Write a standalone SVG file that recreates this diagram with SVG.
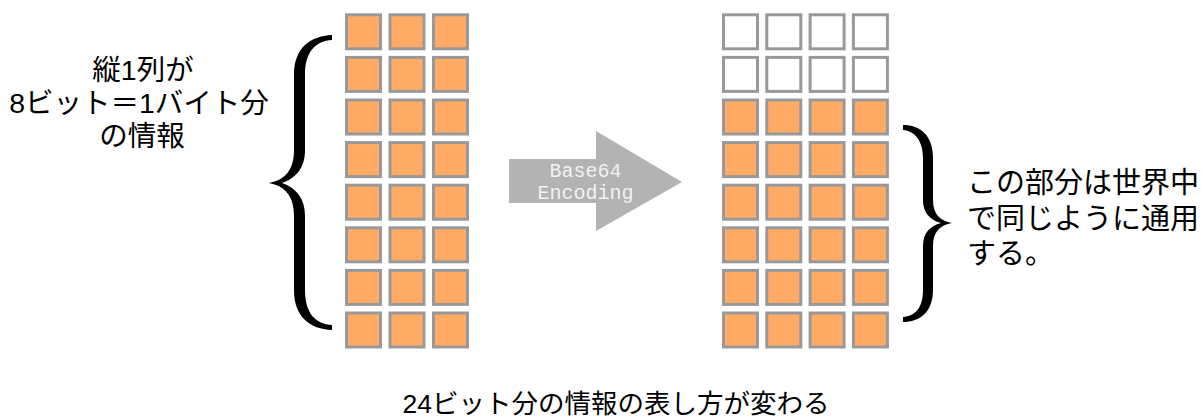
<svg xmlns="http://www.w3.org/2000/svg" width="1201" height="418" viewBox="0 0 1201 418">
<style>
.c{fill:#ffab66;stroke:#999999;stroke-width:3}
.e{fill:#ffffff;stroke:#999999;stroke-width:3}
.t{font-family:"Liberation Sans","Noto Sans CJK JP",sans-serif;fill:#000}
.m{font-family:"Liberation Mono","DejaVu Sans Mono",monospace;fill:#f2f2f2;font-size:20px}
.b{fill:#000}
</style>
<defs>
<rect id="sq" class="c" width="34" height="34"/>
<rect id="sqe" class="e" width="34" height="34"/>
</defs>
<g id="left-grid">
<use href="#sq" x="346.5" y="14.8"/><use href="#sq" x="390" y="14.8"/><use href="#sq" x="433.5" y="14.8"/>
<use href="#sq" x="346.5" y="57.4"/><use href="#sq" x="390" y="57.4"/><use href="#sq" x="433.5" y="57.4"/>
<use href="#sq" x="346.5" y="100"/><use href="#sq" x="390" y="100"/><use href="#sq" x="433.5" y="100"/>
<use href="#sq" x="346.5" y="142.6"/><use href="#sq" x="390" y="142.6"/><use href="#sq" x="433.5" y="142.6"/>
<use href="#sq" x="346.5" y="185.2"/><use href="#sq" x="390" y="185.2"/><use href="#sq" x="433.5" y="185.2"/>
<use href="#sq" x="346.5" y="227.8"/><use href="#sq" x="390" y="227.8"/><use href="#sq" x="433.5" y="227.8"/>
<use href="#sq" x="346.5" y="270.4"/><use href="#sq" x="390" y="270.4"/><use href="#sq" x="433.5" y="270.4"/>
<use href="#sq" x="346.5" y="313"/><use href="#sq" x="390" y="313"/><use href="#sq" x="433.5" y="313"/>
</g>
<g id="right-grid">
<use href="#sqe" x="723.5" y="14.8"/><use href="#sqe" x="766.8" y="14.8"/><use href="#sqe" x="810.1" y="14.8"/><use href="#sqe" x="853.4" y="14.8"/>
<use href="#sqe" x="723.5" y="57.4"/><use href="#sqe" x="766.8" y="57.4"/><use href="#sqe" x="810.1" y="57.4"/><use href="#sqe" x="853.4" y="57.4"/>
<use href="#sq" x="723.5" y="100"/><use href="#sq" x="766.8" y="100"/><use href="#sq" x="810.1" y="100"/><use href="#sq" x="853.4" y="100"/>
<use href="#sq" x="723.5" y="142.6"/><use href="#sq" x="766.8" y="142.6"/><use href="#sq" x="810.1" y="142.6"/><use href="#sq" x="853.4" y="142.6"/>
<use href="#sq" x="723.5" y="185.2"/><use href="#sq" x="766.8" y="185.2"/><use href="#sq" x="810.1" y="185.2"/><use href="#sq" x="853.4" y="185.2"/>
<use href="#sq" x="723.5" y="227.8"/><use href="#sq" x="766.8" y="227.8"/><use href="#sq" x="810.1" y="227.8"/><use href="#sq" x="853.4" y="227.8"/>
<use href="#sq" x="723.5" y="270.4"/><use href="#sq" x="766.8" y="270.4"/><use href="#sq" x="810.1" y="270.4"/><use href="#sq" x="853.4" y="270.4"/>
<use href="#sq" x="723.5" y="313"/><use href="#sq" x="766.8" y="313"/><use href="#sq" x="810.1" y="313"/><use href="#sq" x="853.4" y="313"/>
</g>
<g id="arrow">
<polygon points="509,159 596,159 596,131 682,182 596,231 596,203 509,203" fill="#b3b3b3"/>
<text class="m" x="585.5" y="177" text-anchor="middle">Base64</text>
<text class="m" x="585.5" y="199" text-anchor="middle">Encoding</text>
</g>
<g id="left-brace">
<path class="b" d="M332,35 C310,36 294,48 294,75 L294,150 C294,170 285,180 269,183 C285,186 294,196 294,216 L294,290 C294,317 310,329 332,330 L332,325 C316,324 305,314 305,290 L305,216 C305,198 296,188 282,183 C296,178 305,168 305,150 L305,75 C305,51 316,41 332,40 Z"/>
</g>
<g id="right-brace">
<path class="b" d="M903,125 C920,125 933,135 933,158 L933,200 C933,214 940,221 952,223 C940,225 933,232 933,246 L933,290 C933,312 920,322 903,322 L903,317 C915,316 923,308 923,290 L923,246 C923,233 930,226 941,223 C930,220 923,213 923,200 L923,158 C923,141 915,131 903,130 Z"/>
</g>
<g id="left-label">
<text class="t" font-size="28.5" text-anchor="middle"><tspan x="143" y="80">縦1列が</tspan><tspan x="139" y="113">8ビット＝1バイト分</tspan><tspan x="142" y="146">の情報</tspan></text>
</g>
<g id="right-label">
<text class="t" font-size="29"><tspan x="967" y="193">この部分は世界中</tspan><tspan x="967" y="229">で同じように通用</tspan><tspan x="967" y="264">する。</tspan></text>
</g>
<g id="bottom-label">
<text class="t" font-size="26.5" x="616" y="413" text-anchor="middle">24ビット分の情報の表し方が変わる</text>
</g>
<g id="connectors"/>
</svg>
